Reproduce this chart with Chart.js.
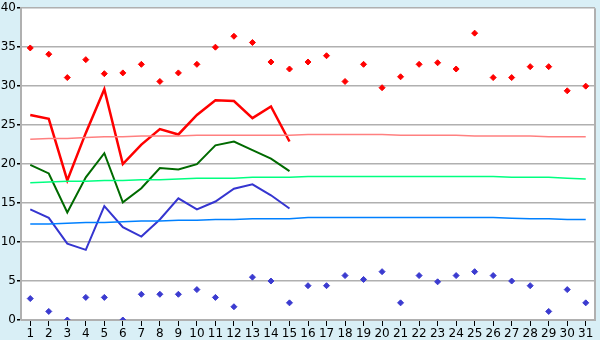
<!DOCTYPE html>
<html>
<head>
<meta charset="utf-8">
<script src="https://cdn.jsdelivr.net/npm/chart.js@4/dist/chart.umd.min.js"></script>
<style>
  html, body { margin: 0; padding: 0; background: #d9eff6; }
  #wrap { width: 600px; height: 340px; }
</style>
</head>
<body>
<div id="wrap"><canvas id="chart" width="600" height="340"></canvas></div>
<script>
var days = [];
for (var d = 1; d <= 31; d++) days.push(String(d));

// daily maxima / minima (points)
var maxPoints = [34.9, 34.1, 31.1, 33.4, 31.6, 31.7, 32.8, 30.6, 31.7, 32.8,
                 35.0, 36.4, 35.6, 33.1, 32.2, 33.1, 33.9, 30.6, 32.8, 29.8,
                 31.2, 32.8, 33.0, 32.2, 36.8, 31.1, 31.1, 32.5, 32.5, 29.4, 30.0];
var minPoints = [2.75, 1.1, 0, 2.9, 2.9, 0, 3.3, 3.3, 3.3, 3.9,
                 2.9, 1.7, 5.5, 5.0, 2.2, 4.4, 4.4, 5.7, 5.2, 6.2,
                 2.2, 5.7, 4.9, 5.7, 6.2, 5.7, 5.0, 4.4, 1.1, 3.9, 2.2];

// this month's lines (days 1-15)
var curMax = [26.3, 25.8, 17.9, 24.0, 29.6, 20.0, 22.5, 24.5, 23.8, 26.3, 28.2, 28.1, 25.9, 27.4, 22.9];
var curAvg = [19.9, 18.8, 13.8, 18.3, 21.4, 15.1, 16.9, 19.5, 19.3, 20.0, 22.4, 22.9, 21.8, 20.7, 19.1];
var curMin = [14.2, 13.1, 9.8, 9.0, 14.6, 11.9, 10.7, 12.9, 15.6, 14.2, 15.2, 16.85, 17.4, 16.0, 14.3];

// normals
var normMax = [23.2, 23.3, 23.3, 23.4, 23.5, 23.5, 23.6, 23.6, 23.6, 23.7,
               23.7, 23.7, 23.7, 23.7, 23.7, 23.8, 23.8, 23.8, 23.8, 23.8,
               23.7, 23.7, 23.7, 23.7, 23.6, 23.6, 23.6, 23.6, 23.5, 23.5, 23.5];
var normAvg = [17.6, 17.7, 17.8, 17.8, 17.9, 17.9, 18.0, 18.0, 18.1, 18.2,
               18.2, 18.2, 18.3, 18.3, 18.3, 18.4, 18.4, 18.4, 18.4, 18.4,
               18.4, 18.4, 18.4, 18.4, 18.4, 18.4, 18.3, 18.3, 18.3, 18.2, 18.1];
var normMin = [12.3, 12.3, 12.4, 12.5, 12.5, 12.6, 12.7, 12.7, 12.8, 12.8,
               12.9, 12.9, 13.0, 13.0, 13.0, 13.15, 13.15, 13.15, 13.15, 13.15,
               13.15, 13.15, 13.15, 13.15, 13.15, 13.15, 13.05, 13.0, 13.0, 12.9, 12.9];

var yTicks = [0, 5, 10, 15, 20, 25, 30, 35, 40];

var bgPlugin = {
    id: 'bg',
    beforeDraw: function(chart) {
        var ctx = chart.ctx, a = chart.chartArea;
        ctx.save();
        ctx.fillStyle = '#d9eff6';
        ctx.fillRect(0, 0, chart.width, chart.height);
        ctx.fillStyle = '#ffffff';
        ctx.fillRect(a.left, a.top, a.right - a.left, a.bottom - a.top);
        ctx.restore();
    },
    afterDatasetsDraw: function(chart) {
        var ctx = chart.ctx, a = chart.chartArea;
        ctx.save();
        ctx.strokeStyle = '#b0b0b0';
        ctx.lineWidth = 2;
        ctx.beginPath();
        ctx.moveTo(a.right, a.top);
        ctx.lineTo(a.right, a.bottom);
        ctx.stroke();
        ctx.restore();
    }
};

function lineSet(data, color, width) {
    return {
        data: data, borderColor: color, backgroundColor: color,
        borderWidth: width, pointRadius: 0, tension: 0, fill: false
    };
}
function pointSet(data, color) {
    return {
        data: data, showLine: false, pointStyle: 'rectRot', pointRadius: 3,
        borderColor: color, backgroundColor: color, borderWidth: 1
    };
}

Chart.defaults.font.family = 'DejaVu Sans';
Chart.defaults.font.size = 12;
Chart.defaults.color = '#000';

new Chart(document.getElementById('chart'), {
    type: 'line',
    data: {
        labels: days,
        datasets: [
            lineSet(normMax, '#ff8080', 1.5),
            lineSet(normAvg, '#00ff80', 1.5),
            lineSet(normMin, '#0080ff', 1.5),
            lineSet(curMax, '#ff0000', 2.5),
            lineSet(curAvg, '#006a00', 2),
            lineSet(curMin, '#3535d0', 2),
            pointSet(maxPoints, '#ff0000'),
            pointSet(minPoints, '#3b3bd0')
        ]
    },
    plugins: [bgPlugin],
    options: {
        responsive: false,
        animation: false,
        layout: { padding: { top: 0, right: 5, left: 0, bottom: 0 } },
        plugins: { legend: { display: false }, tooltip: { enabled: false } },
        scales: {
            x: {
                offset: true,
                grid: { display: true, drawOnChartArea: false, drawTicks: true, tickLength: 6, tickColor: '#000' },
                border: { color: '#b0b0b0', width: 1 },
                ticks: { padding: 1, maxRotation: 0, autoSkip: false },
                afterFit: function(s) { s.height = 20; }
            },
            y: {
                min: 0, max: 40,
                afterBuildTicks: function(s) { s.ticks = yTicks.map(function(v) { return { value: v }; }); },
                grid: { color: '#b0b0b0', lineWidth: 1.5, tickLength: 4, tickColor: '#000' },
                border: { color: '#b0b0b0', width: 2 },
                ticks: { padding: 1 },
                afterFit: function(s) { s.width = 21; }
            }
        }
    }
});
</script>
</body>
</html>
